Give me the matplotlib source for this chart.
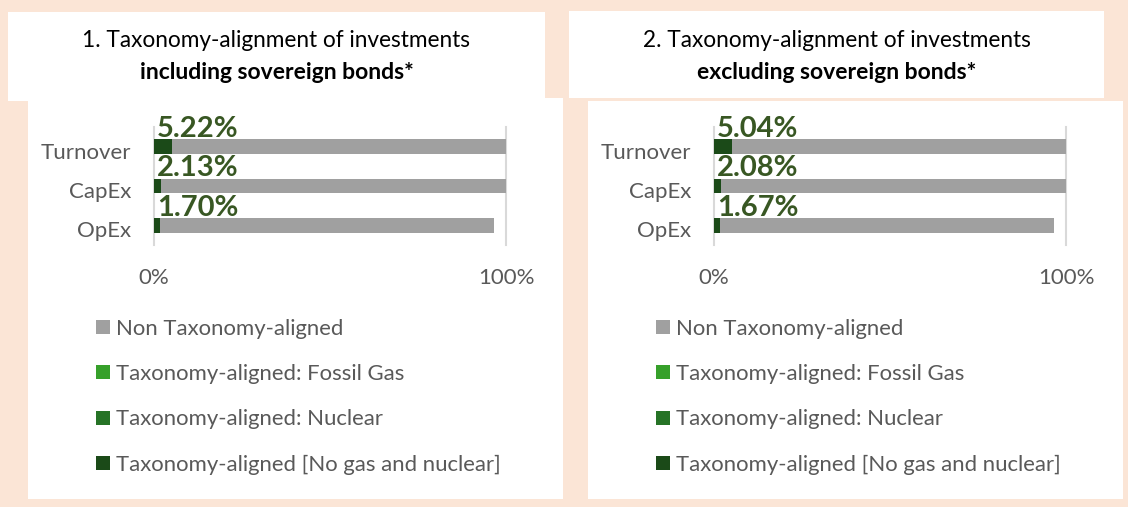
import matplotlib
matplotlib.use("Agg")
import matplotlib.pyplot as plt
from matplotlib.patches import Rectangle
from matplotlib.lines import Line2D
from matplotlib.transforms import ScaledTranslation

# ---------------- data ----------------
categories = ["Turnover", "CapEx", "OpEx"]
series_names = ["Non Taxonomy-aligned",
                "Taxonomy-aligned: Fossil Gas",
                "Taxonomy-aligned: Nuclear",
                "Taxonomy-aligned [No gas and nuclear]"]

incl_aligned = [5.22, 2.13, 1.70]
incl_nuclear = [0.0, 0.0, 0.0]
incl_fossil = [0.0, 0.0, 0.0]
incl_non_aligned = [94.78, 97.87, 94.90]

excl_aligned = [5.04, 2.08, 1.67]
excl_nuclear = [0.0, 0.0, 0.0]
excl_fossil = [0.0, 0.0, 0.0]
excl_non_aligned = [94.96, 97.92, 94.93]

x_ticks = [0, 100]
x_ticklabels = ["0%", "100%"]

titles_line1 = ["1. Taxonomy-alignment of investments",
                "2. Taxonomy-alignment of investments"]
titles_line2 = ["including sovereign bonds*",
                "excluding sovereign bonds*"]

# ---------------- style ----------------
BG = "#FBE5D6"
C_NON = "#A0A0A0"
C_FOSSIL = "#36A02A"
C_NUCLEAR = "#267326"
C_ALIGNED = "#1B4A18"
C_LABEL = "#385723"
C_TICK = "#595959"
C_GRID = "#D9D9D9"
FONT = "Lato"

W, H = 1128, 507
fig = plt.figure(figsize=(W / 100, H / 100), dpi=100, facecolor=BG)


def rect_px(x0, y0, x1, y1):
    return Rectangle((x0 / W, 1 - y1 / H), (x1 - x0) / W, (y1 - y0) / H,
                     transform=fig.transFigure, facecolor="white",
                     edgecolor="none", zorder=-10)


panels = [
    dict(title_box=(8, 12, 545, 101), chart_box=(28, 98, 563, 499), dx=0,
         title_cx=276.5,
         aligned=incl_aligned, nuclear=incl_nuclear, fossil=incl_fossil,
         non=incl_non_aligned),
    dict(title_box=(569, 11, 1104, 98), chart_box=(588, 101, 1123, 499), dx=560,
         title_cx=836.5,
         aligned=excl_aligned, nuclear=excl_nuclear, fossil=excl_fossil,
         non=excl_non_aligned),
]

for k, p in enumerate(panels):
    fig.patches.append(rect_px(*p["title_box"]))
    fig.patches.append(rect_px(*p["chart_box"]))

    # titles
    fig.text(p["title_cx"] / W, 1 - 47 / H, titles_line1[k], ha="center",
             va="baseline", fontsize=16.3, color="black", family=FONT)
    fig.text(p["title_cx"] / W, 1 - 79 / H, titles_line2[k], ha="center",
             va="baseline", fontsize=16.5, color="black", family=FONT,
             fontweight="bold")

    dx = p["dx"]
    ax = fig.add_axes([(154 + dx) / W, 1 - 245 / H, 352 / W, 118 / H])
    ax.set_facecolor("none")
    y = list(range(len(categories)))
    h = 0.38
    left = [0.0] * len(y)
    for vals, col in [(p["aligned"], C_ALIGNED), (p["nuclear"], C_NUCLEAR),
                      (p["fossil"], C_FOSSIL), (p["non"], C_NON)]:
        ax.barh(y, vals, left=left, height=h, color=col, zorder=3)
        left = [l + v for l, v in zip(left, vals)]

    ax.set_xlim(0, 100)
    ax.set_ylim(2.5, -0.5)
    ax.set_xticks(x_ticks)
    ax.set_xticklabels(x_ticklabels)
    ax.set_yticks(y)
    ax.set_yticklabels(categories)
    ax.tick_params(axis="both", length=0, labelsize=16, labelcolor=C_TICK)
    ax.tick_params(axis="x", pad=16.4)
    ax.tick_params(axis="y", pad=16.6)
    for lbl in ax.get_xticklabels() + ax.get_yticklabels():
        lbl.set_family(FONT)
    for lbl in ax.get_yticklabels():
        lbl.set_transform(lbl.get_transform() +
                          ScaledTranslation(0, -4 / 100, fig.dpi_scale_trans))
    ax.grid(axis="x", color=C_GRID, lw=1.5, zorder=0)
    ax.grid(axis="y", visible=False)
    for gl in ax.get_xgridlines():
        gl.set_clip_on(False)
    for s in ax.spines.values():
        s.set_visible(False)

    # data labels
    off = ScaledTranslation(3 / 100, 0, fig.dpi_scale_trans)
    for i, v in enumerate(p["aligned"]):
        ax.text(0, i - 0.25, f"{v:.2f}%", ha="left", va="baseline",
                fontsize=21, fontweight="bold", color=C_LABEL, family=FONT,
                transform=ax.transData + off, zorder=5)

    # legend
    cols = [C_NON, C_FOSSIL, C_NUCLEAR, C_ALIGNED]
    handles = [Line2D([], [], marker="s", linestyle="none", markersize=9.4,
                      markerfacecolor=c, markeredgewidth=0) for c in cols]
    fig.legend(handles, series_names, loc="upper left",
               bbox_to_anchor=((96 + dx) / W, 1 - 319 / H),
               frameon=False, borderpad=0, borderaxespad=0,
               handlelength=0.65, handletextpad=0.25, labelspacing=1.14,
               prop=dict(family=FONT, size=15.9), labelcolor=C_TICK)

fig.savefig("out.png", dpi=100, facecolor=BG)
